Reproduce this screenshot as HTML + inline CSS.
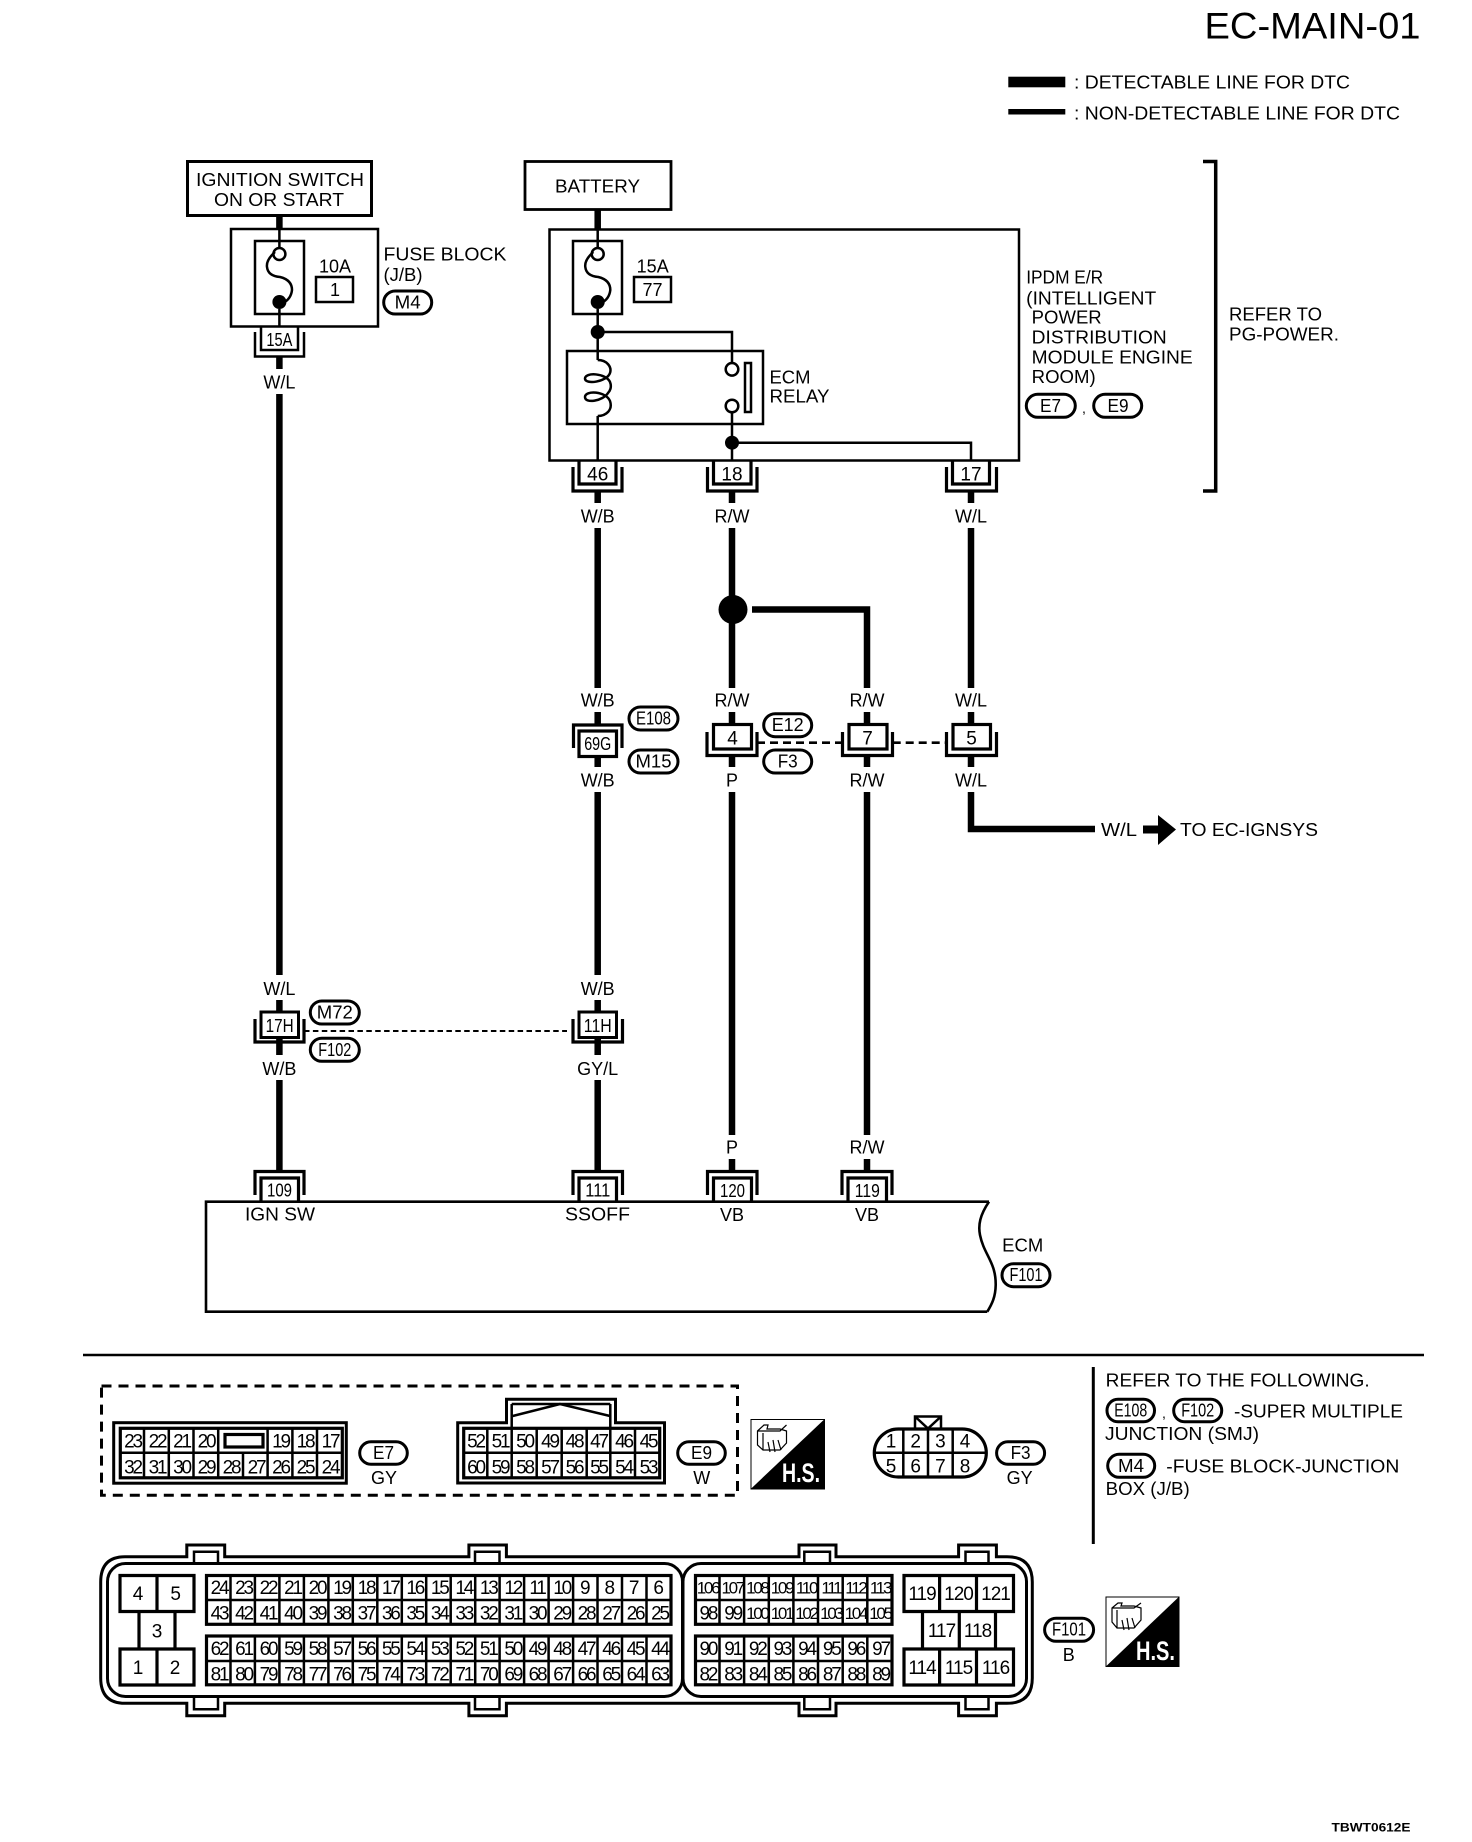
<!DOCTYPE html>
<html><head><meta charset="utf-8"><title>EC-MAIN-01</title>
<style>
html,body{margin:0;padding:0;background:#fff}
svg{display:block}
text{font-family:"Liberation Sans",sans-serif;font-size:18px;fill:#000}
.c{text-anchor:middle}
.n{font-size:19px;letter-spacing:-2.2px;text-anchor:middle}
.m{font-size:17px;letter-spacing:-2.3px;text-anchor:middle}
.d{font-size:19px;text-anchor:middle}
.p{font-size:18px;text-anchor:middle}
.hs{font-weight:bold;font-size:27px;fill:#fff}
.l{fill:none;stroke:#000;stroke-width:2.5}
.o{fill:none;stroke:#000;stroke-width:3}
.b{fill:#fff;stroke:#000;stroke-width:2.5}
.w{fill:none;stroke:#000;stroke-width:6.5}
.k{fill:none;stroke:#000;stroke-width:3.2}
</style></head><body>
<svg xmlns="http://www.w3.org/2000/svg" width="1472" height="1842" viewBox="0 0 1472 1842">
<rect width="1472" height="1842" fill="#fff"/>

<!-- header -->
<text x="1204.5" y="38.3" style="font-size:37px" textLength="216" lengthAdjust="spacingAndGlyphs">EC-MAIN-01</text>
<rect x="1008.3" y="76.7" width="57" height="10.6"/>
<rect x="1008.3" y="109" width="57" height="5.5"/>
<text x="1074" y="88.3" textLength="276" lengthAdjust="spacingAndGlyphs">: DETECTABLE LINE FOR DTC</text>
<text x="1074" y="119.3" textLength="326" lengthAdjust="spacingAndGlyphs">: NON-DETECTABLE LINE FOR DTC</text>

<!-- ignition & battery -->
<rect x="187.5" y="161.5" width="184" height="54" fill="#fff" stroke="#000" stroke-width="3"/>
<text x="280" y="186" class="c" textLength="168" lengthAdjust="spacingAndGlyphs">IGNITION SWITCH</text>
<text x="279" y="206" class="c" textLength="130" lengthAdjust="spacingAndGlyphs">ON OR START</text>
<rect x="525" y="161.5" width="146" height="48" fill="#fff" stroke="#000" stroke-width="2.8"/>
<text x="597.5" y="192.7" class="c" textLength="85" lengthAdjust="spacingAndGlyphs">BATTERY</text>

<!-- wires thick -->
<path class="w" d="M279.4 216V229M279.4 357V369M279.4 394V975M279.4 1000V1012M279.4 1037V1055M279.4 1080V1171"/>
<path class="w" d="M597.7 210V229M597.7 492V503M597.7 528V688M597.7 712V724M597.7 757V767M597.7 792V975M597.7 1000V1012M597.7 1037V1055M597.7 1080V1171"/>
<path class="w" d="M732 492V503M732 528V688M732 712V724M732 757V767M732 792V1135M732 1159V1171"/>
<path class="w" d="M752 609.5H867V688M867 712V724M867 757V767M867 792V1135M867 1159V1171"/>
<path class="w" d="M971 492V503M971 528V688M971 712V724M971 757V767M971 792V829H1095"/>
<circle cx="733" cy="609.5" r="14.5"/>

<!-- fuse block -->
<rect x="231" y="229" width="147" height="97.5" class="l"/>
<rect x="255" y="241" width="49" height="73" class="l"/>
<path class="l" d="M279.4 229V248M279.4 309V327"/>
<circle cx="279.4" cy="254" r="6" class="b"/>
<circle cx="279.4" cy="302" r="7"/>
<path class="l" d="M275 252Q266 260 267 267Q268 276 280 277Q292 280 292 290Q291 299 283 303"/>
<text x="335" y="272.7" class="c">10A</text>
<rect x="316" y="277" width="37" height="25" class="l"/>
<text x="335" y="296" class="c">1</text>
<text x="383.5" y="260.7" textLength="123" lengthAdjust="spacingAndGlyphs">FUSE BLOCK</text>
<text x="383.5" y="281" textLength="39" lengthAdjust="spacingAndGlyphs">(J/B)</text>
<rect x="383.7" y="291" width="48" height="23" rx="11.5" class="o"/>
<text x="407.7" y="308.5" class="p" textLength="26" lengthAdjust="spacingAndGlyphs">M4</text>
<!-- 15A conn -->
<path class="l" d="M255 332V356.5H304V332"/>
<path class="l" d="M261 327V350H298V327"/>
<text x="279.4" y="346" class="p" textLength="26" lengthAdjust="spacingAndGlyphs">15A</text>
<text x="279.4" y="388.7" class="c">W/L</text>

<!-- IPDM -->
<rect x="549.5" y="229.5" width="469.5" height="231" class="l"/>
<rect x="573" y="241" width="49" height="73" class="l"/>
<path class="l" d="M597.7 229V248M597.7 309V360M597.7 416V461"/>
<circle cx="597.7" cy="254" r="6" class="b"/>
<circle cx="597.7" cy="302" r="7"/>
<path class="l" d="M593.3 252Q584.3 260 585.3 267Q586.3 276 598.3 277Q610.3 280 610.3 290Q609.3 299 601.3 303"/>
<text x="652.7" y="272.7" class="c">15A</text>
<rect x="634" y="277" width="37" height="25" class="l"/>
<text x="652.5" y="296" class="c">77</text>
<circle cx="597.7" cy="332" r="7"/>
<path class="l" d="M597.7 332H732V363"/>
<rect x="567" y="351" width="196" height="73" class="l"/>
<path class="l" d="M597.7 360C607 360 612 367 610 373C607 382 585 385 585 378.5C585 372 606 373 610 382C612 387 610 391 608 393C603 401 585 404 585 397C585 390 606 391 610 401C613 410 606 416 597.7 416"/>
<circle cx="732" cy="369.3" r="6.3" class="b"/>
<circle cx="732" cy="406" r="6.3" class="b"/>
<rect x="745" y="363" width="6" height="49" class="l"/>
<path class="l" d="M732 412V461"/>
<circle cx="732" cy="442.7" r="7"/>
<path class="l" d="M732 442.7H971V461"/>
<text x="769.5" y="383.3" textLength="41" lengthAdjust="spacingAndGlyphs">ECM</text>
<text x="769.5" y="402.7" textLength="60" lengthAdjust="spacingAndGlyphs">RELAY</text>

<!-- IPDM bottom connectors -->
<path class="k" d="M573 467V491H622V467"/><path class="k" d="M579 461V484H616V461"/>
<text x="597.7" y="480.7" class="d">46</text>
<path class="k" d="M707.5 467V491H757V467"/><path class="k" d="M713.5 461V484H751V461"/>
<text x="732" y="480.7" class="d">18</text>
<path class="k" d="M946.5 467V491H996.5V467"/><path class="k" d="M952.5 461V484H989.5V461"/>
<text x="971" y="480.7" class="d">17</text>
<text x="597.7" y="522.7" class="c">W/B</text>
<text x="732" y="522.7" class="c">R/W</text>
<text x="971" y="522.7" class="c">W/L</text>

<!-- right labels -->
<text x="1026.2" y="283.3" textLength="77" lengthAdjust="spacingAndGlyphs">IPDM E/R</text>
<text x="1026.2" y="304.3" textLength="130" lengthAdjust="spacingAndGlyphs">(INTELLIGENT</text>
<text x="1031.7" y="323.3" textLength="70" lengthAdjust="spacingAndGlyphs">POWER</text>
<text x="1031.7" y="343.3" textLength="135" lengthAdjust="spacingAndGlyphs">DISTRIBUTION</text>
<text x="1031.7" y="363.3" textLength="161" lengthAdjust="spacingAndGlyphs">MODULE ENGINE</text>
<text x="1031.7" y="383" textLength="64" lengthAdjust="spacingAndGlyphs">ROOM)</text>
<rect x="1026.3" y="394.3" width="49" height="23" rx="11.5" class="o"/>
<text x="1050.5" y="412" class="p" textLength="21" lengthAdjust="spacingAndGlyphs">E7</text>
<text x="1082" y="413" style="font-size:14px">,</text>
<rect x="1093.7" y="394.3" width="48" height="23" rx="11.5" class="o"/>
<text x="1118" y="412" class="p" textLength="21" lengthAdjust="spacingAndGlyphs">E9</text>
<path d="M1203 161.5H1215.7V491H1203" fill="none" stroke="#000" stroke-width="3.5"/>
<text x="1229" y="320.7" textLength="93" lengthAdjust="spacingAndGlyphs">REFER TO</text>
<text x="1229" y="340.7" textLength="110" lengthAdjust="spacingAndGlyphs">PG-POWER.</text>

<!-- middle connectors -->
<text x="597.7" y="706.7" class="c">W/B</text>
<text x="732" y="706.7" class="c">R/W</text>
<text x="867" y="706.7" class="c">R/W</text>
<text x="971" y="706.7" class="c">W/L</text>
<path class="k" d="M573.5 748V725H622V748"/><rect x="579" y="731" width="37.5" height="25.5" fill="#fff" stroke="#000" stroke-width="3.2"/>
<text x="597.7" y="749.8" class="p" textLength="27" lengthAdjust="spacingAndGlyphs">69G</text>
<rect x="629" y="707" width="49" height="23" rx="11.5" class="o"/>
<text x="653.5" y="724.5" class="p" textLength="35" lengthAdjust="spacingAndGlyphs">E108</text>
<rect x="629" y="750" width="49" height="23" rx="11.5" class="o"/>
<text x="653.5" y="767.5" class="p" textLength="36" lengthAdjust="spacingAndGlyphs">M15</text>

<path class="k" d="M707 732V755.5H757V732"/><rect x="713.5" y="724.5" width="38" height="24.5" fill="#fff" stroke="#000" stroke-width="3.2"/>
<text x="732.5" y="744.3" class="d">4</text>
<path class="k" d="M842.5 732V755.5H892.5V732"/><rect x="849" y="724.5" width="38" height="24.5" fill="#fff" stroke="#000" stroke-width="3.2"/>
<text x="867.5" y="744.3" class="d">7</text>
<path class="k" d="M946.5 732V755.5H996.5V732"/><rect x="953" y="724.5" width="37.5" height="24.5" fill="#fff" stroke="#000" stroke-width="3.2"/>
<text x="971.5" y="744.3" class="d">5</text>
<path d="M757 742.7H842M892.7 742.7H946" fill="none" stroke="#000" stroke-width="2.6" stroke-dasharray="8 5"/>
<rect x="763.7" y="713.7" width="48" height="23" rx="11.5" class="o"/>
<text x="787.7" y="731" class="p" textLength="32" lengthAdjust="spacingAndGlyphs">E12</text>
<rect x="763.7" y="750" width="48" height="23" rx="11.5" class="o"/>
<text x="787.7" y="767.5" class="p" textLength="20" lengthAdjust="spacingAndGlyphs">F3</text>
<text x="597.7" y="786.7" class="c">W/B</text>
<text x="732" y="786.7" class="c">P</text>
<text x="867" y="786.7" class="c">R/W</text>
<text x="971" y="786.7" class="c">W/L</text>

<!-- arrow -->
<text x="1101" y="836" textLength="36" lengthAdjust="spacingAndGlyphs">W/L</text>
<path d="M1143 825.5H1158V815L1176 829.5L1158 845V833.5H1143Z"/>
<text x="1180" y="836" textLength="138" lengthAdjust="spacingAndGlyphs">TO EC-IGNSYS</text>

<!-- lower joint connectors -->
<text x="279.4" y="995" class="c">W/L</text>
<text x="597.7" y="995" class="c">W/B</text>
<path class="k" d="M255 1019V1042H304V1019"/><rect x="261" y="1012" width="37.5" height="25.5" fill="#fff" stroke="#000" stroke-width="3"/>
<text x="279.6" y="1032" class="p" textLength="28" lengthAdjust="spacingAndGlyphs">17H</text>
<path class="k" d="M573 1019V1042H622.5V1019"/><rect x="579" y="1012" width="37.5" height="25.5" fill="#fff" stroke="#000" stroke-width="3"/>
<text x="597.8" y="1032" class="p" textLength="28" lengthAdjust="spacingAndGlyphs">11H</text>
<path d="M304 1031H567" fill="none" stroke="#000" stroke-width="2" stroke-dasharray="5.5 3.4"/>
<rect x="310.3" y="1001" width="49" height="23" rx="11.5" class="o"/>
<text x="334.8" y="1018.5" class="p" textLength="36" lengthAdjust="spacingAndGlyphs">M72</text>
<rect x="310.3" y="1038.3" width="49" height="23" rx="11.5" class="o"/>
<text x="334.8" y="1056" class="p" textLength="33" lengthAdjust="spacingAndGlyphs">F102</text>
<text x="279.4" y="1075" class="c">W/B</text>
<text x="597.7" y="1075" class="c">GY/L</text>
<text x="732" y="1153.3" class="c">P</text>
<text x="867" y="1153.3" class="c">R/W</text>

<!-- ECM box -->
<path d="M989 1201.7H206V1311.7H987.3" fill="#fff" stroke="#000" stroke-width="2.6"/>
<path d="M989 1201.7C980 1215 978 1225 980 1235C984 1255 996 1262 995.7 1285C995.5 1297 992 1304 987.3 1311.7" fill="#fff" stroke="#000" stroke-width="2.6"/>
<path class="k" d="M255 1195V1171.5H304V1195"/><path class="k" d="M261 1201V1178H298.5V1201"/>
<text x="279.5" y="1196.7" class="p" textLength="25" lengthAdjust="spacingAndGlyphs">109</text>
<path class="k" d="M573 1195V1171.5H622.5V1195"/><path class="k" d="M579 1201V1178H616.5V1201"/>
<text x="597.8" y="1196.7" class="p" textLength="25" lengthAdjust="spacingAndGlyphs">111</text>
<path class="k" d="M707.5 1195V1171.5H757V1195"/><path class="k" d="M713.5 1201V1178H751.5V1201"/>
<text x="732.5" y="1197" class="p" textLength="25" lengthAdjust="spacingAndGlyphs">120</text>
<path class="k" d="M842 1195V1171.5H892V1195"/><path class="k" d="M848 1201V1178H886.5V1201"/>
<text x="867.3" y="1197" class="p" textLength="25" lengthAdjust="spacingAndGlyphs">119</text>
<text x="280" y="1220.7" class="c" textLength="70" lengthAdjust="spacingAndGlyphs">IGN SW</text>
<text x="597.5" y="1220.7" class="c" textLength="65" lengthAdjust="spacingAndGlyphs">SSOFF</text>
<text x="732" y="1221" class="c">VB</text>
<text x="867" y="1221" class="c">VB</text>
<text x="1002.2" y="1251.7" textLength="41" lengthAdjust="spacingAndGlyphs">ECM</text>
<rect x="1002" y="1263.7" width="48" height="23" rx="11.5" class="o"/>
<text x="1026" y="1281" class="p" textLength="33" lengthAdjust="spacingAndGlyphs">F101</text>

<!-- separator -->
<path d="M83 1355H1424" stroke="#000" stroke-width="2.6" fill="none"/>
<path d="M1093.3 1367V1544" stroke="#000" stroke-width="3" fill="none"/>

<!-- note -->
<text x="1105.7" y="1386.7" textLength="264" lengthAdjust="spacingAndGlyphs">REFER TO THE FOLLOWING.</text>
<rect x="1107" y="1399.3" width="47.5" height="22.5" rx="11" class="o"/>
<text x="1130.7" y="1416.5" class="p" textLength="33" lengthAdjust="spacingAndGlyphs">E108</text>
<text x="1162" y="1418" style="font-size:14px">,</text>
<rect x="1173.7" y="1399.3" width="48" height="22.5" rx="11" class="o"/>
<text x="1197.7" y="1416.5" class="p" textLength="33" lengthAdjust="spacingAndGlyphs">F102</text>
<text x="1234" y="1417.7" textLength="169" lengthAdjust="spacingAndGlyphs">-SUPER MULTIPLE</text>
<text x="1105" y="1440" textLength="154" lengthAdjust="spacingAndGlyphs">JUNCTION (SMJ)</text>
<rect x="1107.7" y="1454.3" width="47" height="23" rx="11.5" class="o"/>
<text x="1131" y="1472" class="p" textLength="26" lengthAdjust="spacingAndGlyphs">M4</text>
<text x="1166.3" y="1472.7" textLength="233" lengthAdjust="spacingAndGlyphs">-FUSE BLOCK-JUNCTION</text>
<text x="1105.7" y="1495" textLength="84" lengthAdjust="spacingAndGlyphs">BOX (J/B)</text>

<!-- dashed frame -->
<rect x="101.5" y="1386" width="636" height="109.3" fill="none" stroke="#000" stroke-width="3" stroke-dasharray="10 7"/>

<!-- E7 -->
<rect x="113.7" y="1422.7" width="232.6" height="60.5" class="o"/>
<rect x="120.3" y="1428.3" width="222" height="49.5" class="k"/>
<path class="l" d="M120 1452.7H342M144 1428V1478M168.8 1428V1478M193.5 1428V1478M218.2 1428V1478M243 1452.7V1478M267.6 1428V1478M292.4 1428V1478M317 1428V1478"/>
<rect x="225" y="1434.5" width="38" height="12.5" class="k"/>
<text class="n" x="132.5" y="1447.7">23</text><text class="n" x="157" y="1447.7">22</text><text class="n" x="181.5" y="1447.7">21</text><text class="n" x="206" y="1447.7">20</text><text class="n" x="280.5" y="1447.7">19</text><text class="n" x="305" y="1447.7">18</text><text class="n" x="330" y="1447.7">17</text>
<text class="n" x="132.5" y="1473.3">32</text><text class="n" x="157" y="1473.3">31</text><text class="n" x="181.5" y="1473.3">30</text><text class="n" x="206" y="1473.3">29</text><text class="n" x="231" y="1473.3">28</text><text class="n" x="256" y="1473.3">27</text><text class="n" x="280.5" y="1473.3">26</text><text class="n" x="305" y="1473.3">25</text><text class="n" x="330" y="1473.3">24</text>
<rect x="359.7" y="1441.7" width="47.6" height="22.6" rx="11.3" class="o"/>
<text x="383.5" y="1459" class="p" textLength="21" lengthAdjust="spacingAndGlyphs">E7</text>
<text x="384" y="1484" class="c">GY</text>

<!-- E9 -->
<path class="o" d="M457.7 1422.7H506.5V1399.3H615.5V1422.7H664.5V1483H457.7Z"/>
<rect x="463.7" y="1428.3" width="196" height="49.5" class="k"/>
<path class="l" d="M464 1452.7H660M487.3 1428V1478M511.7 1404V1478M536.7 1428V1478M561.7 1428V1478M586.7 1428V1478M610.3 1404V1478M635 1428V1478M511.7 1404H610.3"/>
<path d="M512.7 1416L560 1404L610 1416" fill="none" stroke="#000" stroke-width="2.5"/>
<text class="n" x="475.5" y="1447.7">52</text><text class="n" x="500" y="1447.7">51</text><text class="n" x="524.5" y="1447.7">50</text><text class="n" x="549.5" y="1447.7">49</text><text class="n" x="574" y="1447.7">48</text><text class="n" x="598.5" y="1447.7">47</text><text class="n" x="623.5" y="1447.7">46</text><text class="n" x="648" y="1447.7">45</text>
<text class="n" x="475.5" y="1473.3">60</text><text class="n" x="500" y="1473.3">59</text><text class="n" x="524.5" y="1473.3">58</text><text class="n" x="549.5" y="1473.3">57</text><text class="n" x="574" y="1473.3">56</text><text class="n" x="598.5" y="1473.3">55</text><text class="n" x="623.5" y="1473.3">54</text><text class="n" x="648" y="1473.3">53</text>
<rect x="677.7" y="1441.7" width="47.6" height="22.6" rx="11.3" class="o"/>
<text x="701.5" y="1459" class="p" textLength="21" lengthAdjust="spacingAndGlyphs">E9</text>
<text x="701.7" y="1484" class="c">W</text>

<!-- HS icon 1 -->
<rect x="751" y="1419.5" width="73.5" height="69.5" fill="#fff" stroke="#000" stroke-width="1"/>
<path d="M824.7 1419L750.7 1489H824.7Z"/>
<path d="M757.5 1431L764 1425H768L767 1429H780L786.5 1431V1443L780 1450H763L757.5 1445ZM757.5 1431H780L786.5 1425M763 1433V1450M768 1442L770 1452M773 1440L775 1452M778 1440L781 1450" fill="none" stroke="#000" stroke-width="1.2"/>
<text class="hs" x="782" y="1482" textLength="38" lengthAdjust="spacingAndGlyphs">H.S.</text>

<!-- F3 -->
<path class="l" d="M915 1428.5V1416.5H941V1428.5M915 1416.5L928 1428.5L941 1416.5"/>
<rect x="874.3" y="1429" width="112" height="48" rx="24" class="k"/>
<path class="l" d="M874 1452.7H987M903.3 1429V1477M928 1429V1477M952.7 1429V1477"/>
<text class="d" x="891" y="1447.7">1</text><text class="d" x="915.7" y="1447.7">2</text><text class="d" x="940.4" y="1447.7">3</text><text class="d" x="965" y="1447.7">4</text>
<text class="d" x="891" y="1472.7">5</text><text class="d" x="915.7" y="1472.7">6</text><text class="d" x="940.4" y="1472.7">7</text><text class="d" x="965" y="1472.7">8</text>
<rect x="996.6" y="1441.7" width="48" height="22.6" rx="11.3" class="o"/>
<text x="1020.6" y="1459" class="p" textLength="20" lengthAdjust="spacingAndGlyphs">F3</text>
<text x="1019.6" y="1484" class="c">GY</text>

<!-- ECM connector shell -->
<path class="o" d="M125 1556.7H186.8V1545H224.7V1556.7H468.9V1545H506.4V1556.7H799V1545H836V1556.7H958.6V1545H996.4V1556.7H1007Q1032.3 1556.7 1032.3 1582V1678Q1032.3 1703.3 1007 1703.3H996.4V1715.7H958.6V1703.3H836V1715.7H799V1703.3H506.4V1715.7H468.9V1703.3H224.7V1715.7H186.8V1703.3H125Q100.7 1703.3 100.7 1678V1582Q100.7 1556.7 125 1556.7Z"/>
<rect x="107.5" y="1563.5" width="575" height="133" rx="18" class="o"/>
<rect x="683" y="1563.5" width="343.5" height="133" rx="18" class="o"/>
<path class="l" d="M194 1563V1551.7H218V1563M475 1563V1551.7H499.5V1563M804.3 1563V1551.7H830V1563M965.5 1563V1551.7H988.5V1563M194 1697V1709.3H218V1697M475 1697V1709.3H499.5V1697M804.3 1697V1709.3H830V1697M965.5 1697V1709.3H988.5V1697"/>

<!-- block 1-5 -->
<path class="k" d="M120 1575.5H194V1611.5H175V1649H194V1685H120V1649H139V1611.5H120ZM157 1575.5V1611.5M139 1611.5H175M139 1649H175M157 1649V1685"/>
<text class="d" x="138" y="1600">4</text><text class="d" x="175.7" y="1600">5</text><text class="d" x="157" y="1637.3">3</text><text class="d" x="138" y="1674">1</text><text class="d" x="175" y="1674">2</text>

<!-- grid 24..6 -->
<rect x="206.5" y="1575.5" width="464.5" height="48.8" class="k"/>
<rect x="206.5" y="1636" width="464.5" height="48.8" class="k"/>
<path class="l" d="M206 1600H671M206 1661H671"/>
<path class="l" d="M230.5 1575v49M254.9 1575v49M279.4 1575v49M303.9 1575v49M328.4 1575v49M352.8 1575v49M377.3 1575v49M401.8 1575v49M426.2 1575v49M450.7 1575v49M475.2 1575v49M499.6 1575v49M524.1 1575v49M548.6 1575v49M573.1 1575v49M597.5 1575v49M622 1575v49M646.5 1575v49"/>
<path class="l" d="M230.5 1636v49M254.9 1636v49M279.4 1636v49M303.9 1636v49M328.4 1636v49M352.8 1636v49M377.3 1636v49M401.8 1636v49M426.2 1636v49M450.7 1636v49M475.2 1636v49M499.6 1636v49M524.1 1636v49M548.6 1636v49M573.1 1636v49M597.5 1636v49M622 1636v49M646.5 1636v49"/>
<g>
<text class="n" x="219" y="1594">24</text><text class="n" x="243.5" y="1594">23</text><text class="n" x="268" y="1594">22</text><text class="n" x="292.5" y="1594">21</text><text class="n" x="317" y="1594">20</text><text class="n" x="341.5" y="1594">19</text><text class="n" x="366" y="1594">18</text><text class="n" x="390.3" y="1594">17</text><text class="n" x="414.8" y="1594">16</text><text class="n" x="439.3" y="1594">15</text><text class="n" x="463.7" y="1594">14</text><text class="n" x="488.2" y="1594">13</text><text class="n" x="512.7" y="1594">12</text><text class="n" x="537" y="1594">11</text><text class="n" x="561.6" y="1594">10</text><text class="d" x="585.3" y="1594">9</text><text class="d" x="609.8" y="1594">8</text><text class="d" x="634.2" y="1594">7</text><text class="d" x="658.7" y="1594">6</text>
<text class="n" x="219" y="1619.3">43</text><text class="n" x="243.5" y="1619.3">42</text><text class="n" x="268" y="1619.3">41</text><text class="n" x="292.5" y="1619.3">40</text><text class="n" x="317" y="1619.3">39</text><text class="n" x="341.5" y="1619.3">38</text><text class="n" x="366" y="1619.3">37</text><text class="n" x="390.3" y="1619.3">36</text><text class="n" x="414.8" y="1619.3">35</text><text class="n" x="439.3" y="1619.3">34</text><text class="n" x="463.7" y="1619.3">33</text><text class="n" x="488.2" y="1619.3">32</text><text class="n" x="512.7" y="1619.3">31</text><text class="n" x="537" y="1619.3">30</text><text class="n" x="561.6" y="1619.3">29</text><text class="n" x="586" y="1619.3">28</text><text class="n" x="610.6" y="1619.3">27</text><text class="n" x="635" y="1619.3">26</text><text class="n" x="659.5" y="1619.3">25</text>
<text class="n" x="219" y="1655">62</text><text class="n" x="243.5" y="1655">61</text><text class="n" x="268" y="1655">60</text><text class="n" x="292.5" y="1655">59</text><text class="n" x="317" y="1655">58</text><text class="n" x="341.5" y="1655">57</text><text class="n" x="366" y="1655">56</text><text class="n" x="390.3" y="1655">55</text><text class="n" x="414.8" y="1655">54</text><text class="n" x="439.3" y="1655">53</text><text class="n" x="463.7" y="1655">52</text><text class="n" x="488.2" y="1655">51</text><text class="n" x="512.7" y="1655">50</text><text class="n" x="537" y="1655">49</text><text class="n" x="561.6" y="1655">48</text><text class="n" x="586" y="1655">47</text><text class="n" x="610.6" y="1655">46</text><text class="n" x="635" y="1655">45</text><text class="n" x="659.5" y="1655">44</text>
<text class="n" x="219" y="1680.7">81</text><text class="n" x="243.5" y="1680.7">80</text><text class="n" x="268" y="1680.7">79</text><text class="n" x="292.5" y="1680.7">78</text><text class="n" x="317" y="1680.7">77</text><text class="n" x="341.5" y="1680.7">76</text><text class="n" x="366" y="1680.7">75</text><text class="n" x="390.3" y="1680.7">74</text><text class="n" x="414.8" y="1680.7">73</text><text class="n" x="439.3" y="1680.7">72</text><text class="n" x="463.7" y="1680.7">71</text><text class="n" x="488.2" y="1680.7">70</text><text class="n" x="512.7" y="1680.7">69</text><text class="n" x="537" y="1680.7">68</text><text class="n" x="561.6" y="1680.7">67</text><text class="n" x="586" y="1680.7">66</text><text class="n" x="610.6" y="1680.7">65</text><text class="n" x="635" y="1680.7">64</text><text class="n" x="659.5" y="1680.7">63</text>
</g>

<!-- grid 106.. -->
<rect x="695.5" y="1575.5" width="196.5" height="48.8" class="k"/>
<rect x="695.5" y="1636" width="196.5" height="48.8" class="k"/>
<path class="l" d="M695 1600H892M695 1661H892"/>
<path class="l" d="M719.5 1575v49M744.1 1575v49M768.8 1575v49M793.4 1575v49M818 1575v49M842.7 1575v49M867.3 1575v49M719.5 1636v49M744.1 1636v49M768.8 1636v49M793.4 1636v49M818 1636v49M842.7 1636v49M867.3 1636v49"/>
<text class="m" x="707.5" y="1593.5">106</text><text class="m" x="732.2" y="1593.5">107</text><text class="m" x="756.8" y="1593.5">108</text><text class="m" x="781.5" y="1593.5">109</text><text class="m" x="806" y="1593.5">110</text><text class="m" x="830.8" y="1593.5">111</text><text class="m" x="855.4" y="1593.5">112</text><text class="m" x="880" y="1593.5">113</text>
<text class="n" x="707.9" y="1619.3">98</text><text class="n" x="732.6" y="1619.3">99</text><text class="m" x="756.8" y="1619">100</text><text class="m" x="781.5" y="1619">101</text><text class="m" x="806" y="1619">102</text><text class="m" x="830.8" y="1619">103</text><text class="m" x="855.4" y="1619">104</text><text class="m" x="880" y="1619">105</text>
<text class="n" x="707.9" y="1655">90</text><text class="n" x="732.6" y="1655">91</text><text class="n" x="757.2" y="1655">92</text><text class="n" x="781.9" y="1655">93</text><text class="n" x="806.5" y="1655">94</text><text class="n" x="831.2" y="1655">95</text><text class="n" x="855.8" y="1655">96</text><text class="n" x="880.5" y="1655">97</text>
<text class="n" x="707.9" y="1680.7">82</text><text class="n" x="732.6" y="1680.7">83</text><text class="n" x="757.2" y="1680.7">84</text><text class="n" x="781.9" y="1680.7">85</text><text class="n" x="806.5" y="1680.7">86</text><text class="n" x="831.2" y="1680.7">87</text><text class="n" x="855.8" y="1680.7">88</text><text class="n" x="880.5" y="1680.7">89</text>

<!-- right block -->
<path class="k" d="M904 1575.5H1013.5V1611.5H995.5V1649H1013.5V1685H904V1649H922.5V1611.5H904ZM939.6 1575.5V1611.5M976.5 1575.5V1611.5M922.5 1611.5H995.5M922.5 1649H995.5M959.3 1611.5V1649M939.6 1649V1685M976.5 1649V1685"/>
<text class="n" x="922" y="1600" style="letter-spacing:-1px">119</text><text class="n" x="958.5" y="1600" style="letter-spacing:-1px">120</text><text class="n" x="995.5" y="1600" style="letter-spacing:-1px">121</text>
<text class="n" x="941.5" y="1637" style="letter-spacing:-1px">117</text><text class="n" x="977.5" y="1637" style="letter-spacing:-1px">118</text>
<text class="n" x="922" y="1674" style="letter-spacing:-1px">114</text><text class="n" x="958.5" y="1674" style="letter-spacing:-1px">115</text><text class="n" x="995.5" y="1674" style="letter-spacing:-1px">116</text>
<rect x="1044.6" y="1618.3" width="49" height="23" rx="11.5" class="o"/>
<text x="1069" y="1635.5" class="p" textLength="34" lengthAdjust="spacingAndGlyphs">F101</text>
<text x="1068.8" y="1661" class="c">B</text>

<!-- HS icon 2 -->
<rect x="1106" y="1597" width="73" height="69.5" fill="#fff" stroke="#000" stroke-width="1"/>
<path d="M1179 1596.7L1105.6 1666.7H1179Z"/>
<path d="M1112 1608L1118 1603H1122L1121 1606H1134L1141 1608V1620L1134 1628H1117L1112 1622ZM1112 1608H1134L1141 1603M1117 1610V1628M1122 1620L1124 1630M1127 1618L1129 1630M1132 1618L1135 1628" fill="none" stroke="#000" stroke-width="1.2"/>
<text class="hs" x="1136" y="1660" textLength="39" lengthAdjust="spacingAndGlyphs">H.S.</text>

<!-- footer -->
<text x="1331.5" y="1831.5" style="font-size:11.5px;font-weight:bold" textLength="79" lengthAdjust="spacingAndGlyphs">TBWT0612E</text>
</svg>
</body></html>
